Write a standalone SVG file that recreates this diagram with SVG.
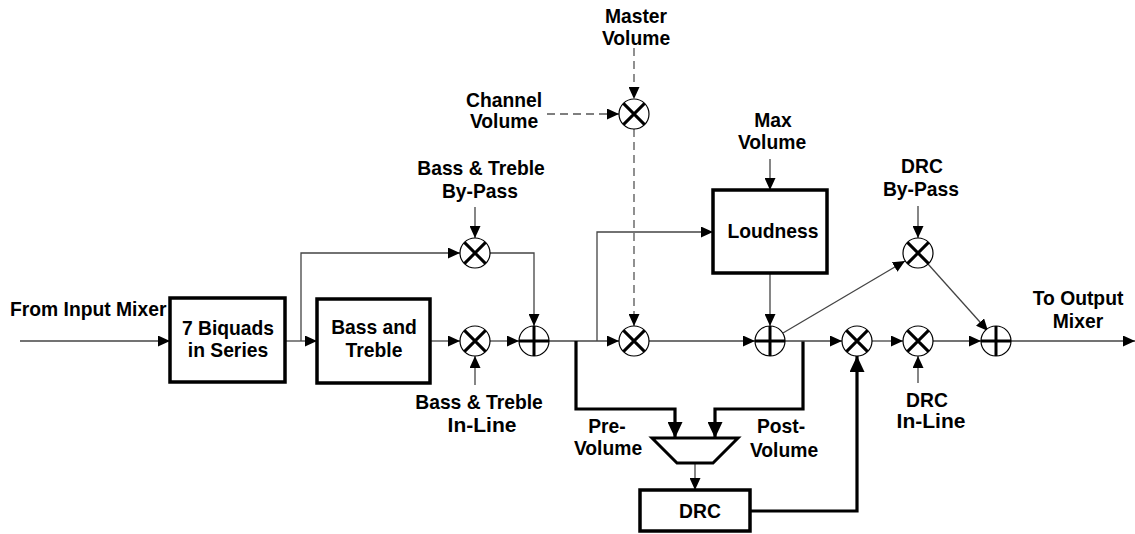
<svg xmlns="http://www.w3.org/2000/svg" width="1135" height="534" viewBox="0 0 1135 534">
<style>
text{font-family:"Liberation Sans",Arial,sans-serif;font-weight:bold;font-size:19.3px;fill:#000;text-anchor:middle}
.big{font-size:21px}
.box{fill:#fff;stroke:#000;stroke-width:3.5}
.c{fill:#fff;stroke:#000;stroke-width:1.2}
.x{stroke:#000;stroke-width:3;fill:none}
.w{fill:none;stroke:#444;stroke-width:1.3}
.t{fill:none;stroke:#000;stroke-width:3.2}
.d{fill:none;stroke:#555;stroke-width:1.3;stroke-dasharray:8 5}
</style>
<defs>
<marker id="a" markerUnits="userSpaceOnUse" markerWidth="12" markerHeight="11" refX="12" refY="5.5" orient="auto"><path d="M0,0 L12,5.5 L0,11 z" fill="#000"/></marker>
<marker id="b" markerUnits="userSpaceOnUse" markerWidth="16" markerHeight="15" refX="16" refY="7.5" orient="auto"><path d="M0,0 L16,7.5 L0,15 z" fill="#000"/></marker>
<g id="mulsym"><circle class="c" r="15"/><path class="x" d="M-10.6,-10.6 L10.6,10.6 M10.6,-10.6 L-10.6,10.6"/></g>
<g id="sumsym"><circle class="c" r="15"/><path class="x" d="M-15,0 H15 M0,-15 V15"/></g>
</defs>
<g id="connectors">
<path class="w" d="M20,341 H170" marker-end="url(#a)"/>
<path class="w" d="M285,341 H317" marker-end="url(#a)"/>
<path class="w" d="M301,341 V253 H460" marker-end="url(#a)"/>
<path class="w" d="M430,341 H460" marker-end="url(#a)"/>
<path class="w" d="M490,341 H519" marker-end="url(#a)"/>
<path class="w" d="M490,253 H534 V326" marker-end="url(#a)"/>
<path class="w" d="M549,341 H619" marker-end="url(#a)"/>
<path class="w" d="M597,341 V232 H713" marker-end="url(#a)"/>
<path class="t" d="M576,341 V409 H675 V438" marker-end="url(#b)"/>
<path class="t" d="M803,341 V409 H715 V438" marker-end="url(#b)"/>
<path class="w" d="M695,463 V490" marker-end="url(#a)"/>
<path class="t" d="M750,511 H857 V356" marker-end="url(#b)"/>
<path class="w" d="M649,341 H755" marker-end="url(#a)"/>
<path class="w" d="M770,273 V326" marker-end="url(#a)"/>
<path class="w" d="M785,341 H842" marker-end="url(#a)"/>
<path class="w" d="M783,333 L905,261" marker-end="url(#a)"/>
<path class="w" d="M928,264 L988,331" marker-end="url(#a)"/>
<path class="w" d="M872,341 H903" marker-end="url(#a)"/>
<path class="w" d="M933,341 H981" marker-end="url(#a)"/>
<path class="w" d="M1011,341 H1135" marker-end="url(#a)"/>
<path class="w" d="M475,207 V238" marker-end="url(#a)"/>
<path class="w" d="M475,385 V356" marker-end="url(#a)"/>
<path class="d" d="M634,48 V99" marker-end="url(#a)"/>
<path class="d" d="M547,114 H619" marker-end="url(#a)" stroke-dasharray="3 4 8 5 8 5 8 5 8 5"/>
<path class="d" d="M634,129 V326" marker-end="url(#a)"/>
<path class="w" d="M770,159 V190" marker-end="url(#a)"/>
<path class="w" d="M918,206 V238" marker-end="url(#a)"/>
<path class="w" d="M918,383 V356" marker-end="url(#a)"/>
</g>
<g id="biquads"><rect class="box" x="170" y="298" width="115" height="84"/><text x="228" y="335">7 Biquads</text><text x="228" y="357">in Series</text></g>
<g id="basstreble"><rect class="box" x="317" y="299" width="113" height="84"/><text x="374" y="334">Bass and</text><text x="374" y="357">Treble</text></g>
<g id="loudness"><rect class="box" x="713" y="190" width="114" height="83"/><text x="773" y="238">Loudness</text></g>
<g id="drc"><rect class="box" x="640" y="490" width="110" height="41"/><text x="700" y="518">DRC</text></g>
<g id="mux"><polygon points="652,438 738,438 713,463 677,463" fill="#fff" stroke="#000" stroke-width="3" stroke-linejoin="miter"/></g>
<g id="mul-bt-bypass"><use href="#mulsym" x="475" y="253"/></g>
<g id="mul-bt-inline"><use href="#mulsym" x="475" y="341"/></g>
<g id="sum1"><use href="#sumsym" x="534" y="341"/></g>
<g id="mul-chmaster"><use href="#mulsym" x="634" y="114"/></g>
<g id="mul-volume"><use href="#mulsym" x="634" y="341"/></g>
<g id="sum2"><use href="#sumsym" x="770" y="341"/></g>
<g id="mul-drc"><use href="#mulsym" x="857" y="341"/></g>
<g id="mul-drc-bypass"><use href="#mulsym" x="918" y="253"/></g>
<g id="mul-drc-inline"><use href="#mulsym" x="918" y="341"/></g>
<g id="sum3"><use href="#sumsym" x="996" y="341"/></g>
<g id="labels">
<text x="10" y="316" style="text-anchor:start">From Input Mixer</text>
<text x="636" y="23">Master</text><text x="636" y="45">Volume</text>
<text x="504" y="107">Channel</text><text x="504" y="128">Volume</text>
<text x="481" y="175">Bass &amp; Treble</text><text x="480" y="198">By-Pass</text>
<text x="773" y="127">Max</text><text x="772" y="149">Volume</text>
<text x="922" y="173">DRC</text><text x="921" y="196">By-Pass</text>
<text x="1078" y="305">To Output</text><text x="1078" y="328">Mixer</text>
<text x="479" y="409">Bass &amp; Treble</text><text class="big" x="482" y="432">In-Line</text>
<text x="927" y="407">DRC</text><text class="big" x="931" y="428">In-Line</text>
<text x="607" y="433">Pre-</text><text x="608" y="455">Volume</text>
<text x="781" y="433">Post-</text><text x="784" y="457">Volume</text>
</g>
</svg>
